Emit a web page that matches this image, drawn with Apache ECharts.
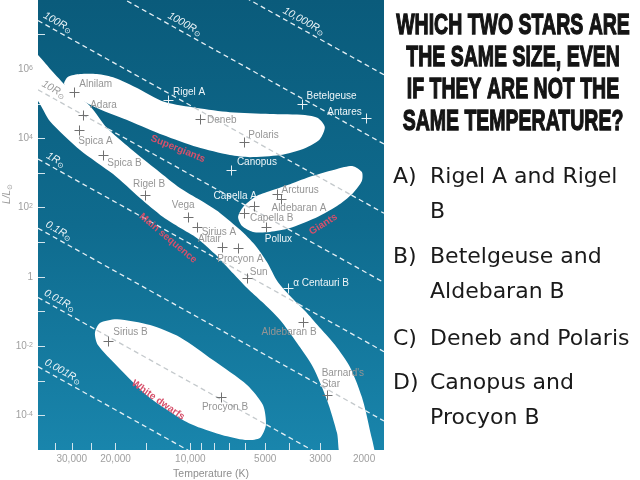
<!DOCTYPE html>
<html>
<head>
<meta charset="utf-8">
<script src="https://cdn.jsdelivr.net/npm/echarts@6/dist/echarts.min.js"></script>
<style>
html,body{margin:0;padding:0;background:#fff;}
#chart{width:640px;height:480px;}
</style>
</head>
<body>
<div id="chart"></div>
<script>
// ================= DATA =================
const starNames = ['Alnilam','Adara','Spica A','Spica B','Rigel B','Vega','Sirius A','Altair','Procyon A','Sun',
  'α Centauri B','Canopus','Capella A','Capella B','Arcturus','Aldebaran A','Pollux','Rigel A','Deneb','Polaris',
  'Betelgeuse','Antares','Aldebaran B',"Barnard's\nStar",'Sirius B','Procyon B'];
const starTemps = [29300, 27000, 28000, 22400, 15200, 10200, 9430, 7470, 6410, 5930,
  4040, 6870, 5550, 6080, 4500, 4300, 4970, 12300, 9140, 6070,
  3570, 1970, 3520, 2830, 21400, 7530];               // K
const starLums = [2.15e5, 4.8e4, 1.75e4, 3300, 233, 55, 28, 7.5, 6.7, 0.91,
  0.47, 1230, 112, 70, 244, 175, 27, 1.29e5, 3.65e4, 8050,
  9.7e4, 3.8e4, 0.051, 3.9e-4, 0.0141, 3.5e-4];       // L / Lsun

const radii = [10000, 1000, 100, 10, 1, 0.1, 0.01, 0.001];   // R / Rsun
const radiusLabels = ['10,000R', '1000R', '100R', '10R', '1R', '0.1R', '0.01R', '0.001R'];

const tempTicks = [35000, 30000, 25000, 20000, 15000, 10000, 9000, 8000, 7000, 6000, 5000, 4000, 3000, 2000];
const tempLabels = [30000, 20000, 10000, 5000, 3000, 2000];
const lumTickExps = [-4, -3, -2, -1, 0, 1, 2, 3, 4, 5, 6, 7];
const lumLabelExps = [-4, -2, 0, 2, 4, 6];

// region outlines, [log10 T, log10 L]
const mainSequence = [
  [4.645,6.61],[4.613,6.41],[4.553,5.92],[4.484,5.40],[4.404,4.94],[4.335,4.30],[4.243,3.72],[4.134,3.09],
  [4.042,2.57],[3.961,2.22],[3.881,1.85],[3.800,1.36],[3.740,0.92],[3.692,0.43],[3.648,-0.15],[3.591,-0.61],
  [3.531,-1.04],[3.475,-1.50],[3.418,-1.97],[3.358,-2.60],[3.310,-3.47],[3.278,-4.42],[3.261,-5.29],
  [3.390,-5.29],[3.410,-4.51],[3.450,-3.56],[3.507,-2.60],[3.571,-1.91],[3.640,-1.24],[3.712,-0.72],
  [3.772,-0.32],[3.841,0.20],[3.901,0.66],[3.973,1.12],[4.042,1.42],[4.110,1.73],[4.203,2.28],[4.311,2.97],
  [4.444,3.67],[4.565,4.50],[4.613,5.08],[4.645,5.26]
];
const supergiants = [
  [4.508,5.57],[4.492,5.78],[4.444,5.86],[4.376,5.86],[4.303,5.75],[4.223,5.49],[4.102,5.05],[3.973,4.88],
  [3.841,4.76],[3.680,4.71],[3.539,4.68],[3.487,4.59],[3.459,4.33],[3.479,3.98],[3.539,3.72],[3.640,3.52],
  [3.760,3.46],[3.841,3.52],[3.973,3.75],[4.110,4.10],[4.243,4.50],[4.376,4.88],[4.476,5.28]
];
const giants = [
  [3.808,1.73],[3.788,2.02],[3.740,2.31],[3.692,2.45],[3.599,2.68],[3.507,2.92],[3.410,3.12],[3.346,3.20],
  [3.310,3.03],[3.310,2.77],[3.346,2.42],[3.410,2.05],[3.507,1.67],[3.599,1.41],[3.680,1.30],[3.748,1.30],
  [3.792,1.47]
];
const whiteDwarfs = [
  [4.384,-1.62],[4.364,-1.33],[4.295,-1.22],[4.162,-1.39],[4.042,-1.74],[3.909,-2.40],[3.772,-3.12],
  [3.708,-3.70],[3.696,-4.28],[3.720,-4.65],[3.780,-4.71],[3.873,-4.57],[3.961,-4.36],[4.030,-4.13],
  [4.162,-3.50],[4.295,-2.57],[4.372,-1.97]
];
const regions = [mainSequence, supergiants, giants, whiteDwarfs];
const regionLabels = ['Main sequence', 'Supergiants', 'Giants', 'White dwarfs'];

const questionLines = ['WHICH TWO STARS ARE', 'THE SAME SIZE, EVEN', 'IF THEY ARE NOT THE', 'SAME TEMPERATURE?'];
const answerKeys = ['A)', 'B)', 'C)', 'D)'];
const answerTexts = [['Rigel A and Rigel', 'B'], ['Betelgeuse and', 'Aldebaran B'], ['Deneb and Polaris'], ['Canopus and', 'Procyon B']];

// ================= LAYOUT / STYLE =================
const LOG_TSUN = Math.log10(5772);
const X_MIN = 3.221, X_MAX = 4.613;
const FONT = '"Liberation Sans", Arial, Helvetica, sans-serif';
// star label offsets in px: [dx, dy, align]
const starLabelLayout = [
  [5,-8,'left'],[7,-10,'left'],[-1,11,'left'],[4,8,'left'],[4,-11,'center'],[-5,-11,'center'],[5,5,'left'],
  [-1,-7,'right'],[2,11,'center'],[3,-6,'left'],[5,-5,'left'],[6,-8,'left'],[3,-10,'right'],[6,5,'left'],
  [5,-4,'left'],[-10,9,'left'],[-1,12,'left'],[5,-8,'left'],[7,1,'left'],[4,-6,'left'],[5,-8,'left'],
  [-4,-6,'right'],[-14,11,'center'],[-5,-16,'left'],[5,-9,'left'],[4,11,'center']
];
const radiusLabelLogT = [3.559, 4.038, 4.549, 4.565, 4.557, 4.545, 4.541, 4.528];
const regionLabelPos = [[4.090,1.12,-40],[4.050,3.70,-22],[3.465,1.52,32],[4.130,-3.56,-35]];

const BLUE_TXT = '#eef5f8', GRAY_TXT = '#959595';

function inside(pt, poly){
  let c = false;
  for (let i = 0, j = poly.length - 1; i < poly.length; j = i++) {
    const xi = poly[i][0], yi = poly[i][1], xj = poly[j][0], yj = poly[j][1];
    if (((yi > pt[1]) !== (yj > pt[1])) && (pt[0] < (xj - xi) * (pt[1] - yi) / (yj - yi) + xi)) c = !c;
  }
  return c;
}
function pxPolys(api){ return regions.map(r => r.map(p => api.coord(p))); }
function inAny(pt, polys){ return polys.some(p => inside(pt, p)); }

function regionRender(params, api){
  const pts = regions[params.dataIndex].map(p => api.coord(p));
  return {type:'polygon', shape:{points:pts, smooth:0.25}, style:{fill:'#ffffff', stroke:null}};
}

function radiusRender(params, api){
  const i = params.dataIndex;
  const logR = Math.log10(radii[i]);
  const lineL = lt => 2*logR + 4*(lt - LOG_TSUN);
  const polys = pxPolys(api);
  const a = api.coord([X_MAX, lineL(X_MAX)]), b = api.coord([X_MIN, lineL(X_MIN)]);
  const N = 500, children = [];
  let run = null;
  const mk = r => ({type:'line', shape:{x1:r.p0[0], y1:r.p0[1], x2:r.p1[0], y2:r.p1[1]},
    style:{stroke: r.w ? '#c4c9cc' : '#e6f0f5', lineWidth:1.3, lineDash:[5,3.5]}});
  for (let k = 0; k <= N; k++) {
    const t = k / N;
    const pt = [a[0] + (b[0]-a[0])*t, a[1] + (b[1]-a[1])*t];
    const w = inAny(pt, polys);
    if (!run) run = {w, p0:pt, p1:pt};
    else if (run.w !== w) { run.p1 = pt; children.push(mk(run)); run = {w, p0:pt, p1:pt}; }
    else run.p1 = pt;
  }
  children.push(mk(run));
  const lt = radiusLabelLogT[i];
  const c = api.coord([lt, lineL(lt)]);
  const ang = Math.atan2(b[1]-a[1], b[0]-a[0]);
  const off = 8;
  const lx = c[0] + Math.sin(ang)*off, ly = c[1] - Math.cos(ang)*off;
  const col = inAny([lx, ly], polys) ? '#9a9a9a' : BLUE_TXT;
  children.push({type:'text', x:lx, y:ly, rotation:-ang, z2:10,
    style:{text:'{a|' + radiusLabels[i] + '}{s|⊙}', align:'center', verticalAlign:'middle',
      rich:{a:{fill:col, fontSize:10.5, fontStyle:'italic', fontFamily:FONT, lineHeight:14},
            s:{fill:col, fontSize:7.5, fontFamily:'"DejaVu Sans", sans-serif', lineHeight:8, verticalAlign:'bottom'}}}});
  return {type:'group', children};
}

function regionLabelRender(params, api){
  const i = params.dataIndex;
  const p = api.coord([api.value(0), api.value(1)]);
  return {type:'text', x:p[0], y:p[1], rotation: regionLabelPos[i][2]*Math.PI/180,
    style:{text: regionLabels[i], fill:'#d6506b', font:'bold 10px ' + FONT, align:'center', verticalAlign:'middle'}};
}

function starRender(params, api){
  const i = params.dataIndex;
  const p = api.coord([api.value(0), api.value(1)]);
  const polys = pxPolys(api);
  const cx = Math.round(p[0]) + 0.5, cy = Math.round(p[1]) + 0.5;
  const onW = inAny(p, polys);
  const lay = starLabelLayout[i];
  const lp = [p[0] + lay[0], p[1] + lay[1]];
  const w = Math.max(...starNames[i].split('\n').map(s => s.length)) * 5.2;
  const x0 = lay[2] === 'left' ? lp[0] : lay[2] === 'right' ? lp[0] - w : lp[0] - w/2;
  let n = 0;
  for (let k = 0; k < 6; k++) if (inAny([x0 + w*(k + 0.5)/6, lp[1]], polys)) n++;
  const labW = n >= 3;
  const cross = onW ? '#707070' : '#e8f0f4';
  return {type:'group', children:[
    {type:'line', shape:{x1:cx-5, y1:cy, x2:cx+5, y2:cy}, style:{stroke:cross, lineWidth:1}},
    {type:'line', shape:{x1:cx, y1:cy-5, x2:cx, y2:cy+5}, style:{stroke:cross, lineWidth:1}},
    {type:'text', x:lp[0], y:lp[1], style:{text: starNames[i], fill: labW ? GRAY_TXT : BLUE_TXT,
      font:'10px ' + FONT, align: lay[2], verticalAlign:'middle', lineHeight:11}}
  ]};
}

function fmtTemp(v){
  let best = tempLabels[0];
  tempLabels.forEach(t => { if (Math.abs(Math.log10(t) - v) < Math.abs(Math.log10(best) - v)) best = t; });
  return best >= 10000 ? best.toLocaleString('en-US') : String(best);
}

const graphics = [];
graphics.push({type:'text', x:513, y:10, scaleX:0.65, silent:true,
  style:{text: questionLines.join('\n'), font:'bold 30px ' + FONT, fill:'#141414', stroke:'#141414', lineWidth:1.3,
    align:'center', verticalAlign:'top', lineHeight:32}});
const answerY = [177.5, 257.5, 339.5, 383.5];
answerKeys.forEach((k, i) => {
  graphics.push({type:'text', x:393, y:answerY[i], silent:true,
    style:{text:k, font:'22px "DejaVu Sans", sans-serif', fill:'#1a1a1a', align:'left', verticalAlign:'middle'}});
  answerTexts[i].forEach((t, j) => {
    graphics.push({type:'text', x:430, y:answerY[i] + j*34.5, silent:true,
      style:{text:t, font:'22px "DejaVu Sans", sans-serif', fill:'#1a1a1a', align:'left', verticalAlign:'middle'}});
  });
});
graphics.push({type:'text', x:7, y:194, rotation:Math.PI/2, silent:true,
  style:{text:'{a|L/L}{s|⊙}', align:'center', verticalAlign:'middle',
    rich:{a:{fill:'#9c9c9c', fontSize:10, fontStyle:'italic', fontFamily:FONT, lineHeight:13},
          s:{fill:'#9c9c9c', fontSize:7, fontFamily:'"DejaVu Sans", sans-serif', lineHeight:8, verticalAlign:'bottom'}}}});

const option = {
  animation: false,
  grid: {left:38, right:256, top:0, bottom:30, show:true, borderWidth:0, outerBoundsMode:'none', containLabel:false,
    backgroundColor:{type:'linear', x:0, y:0, x2:0, y2:1,
      colorStops:[{offset:0, color:'#0a5b7b'}, {offset:0.5, color:'#0f6b8e'}, {offset:1, color:'#1985ac'}]}},
  xAxis: {type:'value', inverse:true, min:X_MIN, max:X_MAX,
    axisLine:{show:false, onZero:false}, splitLine:{show:false},
    axisTick:{show:true, inside:true, length:7, customValues: tempTicks.map(t => Math.log10(t)), lineStyle:{color:'#d3e5ed', width:1}},
    axisLabel:{customValues: tempLabels.map(t => Math.log10(t)), formatter: fmtTemp, color:'#a0a0a0', fontSize:10, fontFamily:FONT, margin:4},
    name:'Temperature (K)', nameLocation:'middle', nameGap:17, nameTextStyle:{color:'#8e8e8e', fontSize:10.5, fontFamily:FONT}},
  yAxis: {type:'value', min:-5, max:8, interval:1,
    axisLine:{show:false, onZero:false}, splitLine:{show:false},
    axisTick:{show:true, inside:true, length:7, customValues: lumTickExps, lineStyle:{color:'#d3e5ed', width:1}},
    axisLabel:{customValues: lumLabelExps, margin:5, color:'#a0a0a0', fontSize:10, fontFamily:FONT,
      formatter: v => v === 0 ? '1' : '10{sup|' + v + '}',
      rich:{sup:{fontSize:7, color:'#a0a0a0', fontFamily:FONT, verticalAlign:'top', lineHeight:7}}}},
  series: [
    {type:'custom', name:'regions', z:2, clip:true, silent:true, renderItem: regionRender,
      data: regions.map(r => [r[0][0], r[0][1]])},
    {type:'custom', name:'radius', z:3, clip:true, silent:true, renderItem: radiusRender,
      data: radii.map((r, i) => [radiusLabelLogT[i], 2*Math.log10(r) + 4*(radiusLabelLogT[i] - LOG_TSUN)])},
    {type:'custom', name:'regionLabels', z:4, clip:true, silent:true, renderItem: regionLabelRender,
      data: regionLabelPos.map(p => [p[0], p[1]])},
    {type:'custom', name:'stars', z:5, clip:true, silent:true, renderItem: starRender,
      data: starTemps.map((t, i) => [Math.log10(t), Math.log10(starLums[i])])}
  ],
  graphic: graphics
};
const chart = echarts.init(document.getElementById('chart'), null, {renderer:'canvas'});
chart.setOption(option);
</script>
</body>
</html>
